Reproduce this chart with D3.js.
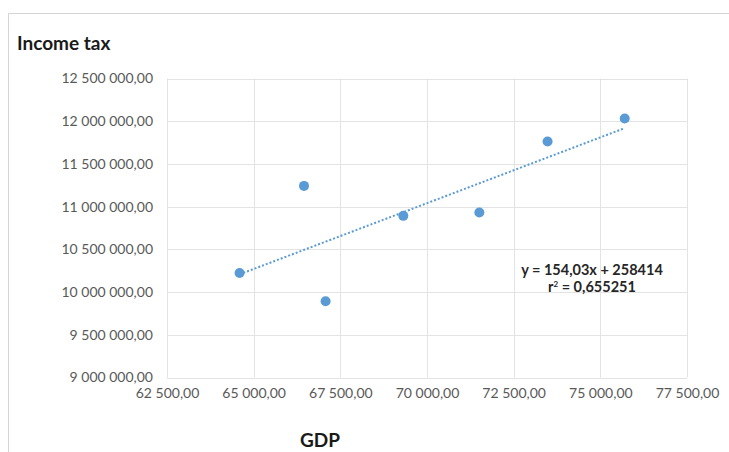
<!DOCTYPE html>
<html>
<head>
<meta charset="utf-8">
<script src="https://cdn.jsdelivr.net/npm/d3@7/dist/d3.min.js"></script>
<style>
  html, body { margin: 0; padding: 0; background: #fff; }
  svg { display: block; }
</style>
</head>
<body>
<svg id="chart" width="729" height="452"></svg>
<script>
// GDP (x) vs income tax (y) observations
const gdp = [64594, 66452, 67075, 69317, 71510, 73478, 75703];
const incomeTax = [10224000, 11243000, 9893000, 10892000, 10932000, 11763000, 12032000];

// Axis ticks
const xTicks = [62500, 65000, 67500, 70000, 72500, 75000, 77500];
const yTicks = [9000000, 9500000, 10000000, 10500000, 11000000, 11500000, 12000000, 12500000];

// Linear trendline as reported
const slope = 154.03;
const intercept = 258414;
const rSquared = "0,655251";

const svg = d3.select("#chart");
const W = 729, H = 452;
const plot = { left: 167, right: 687, top: 78.5, bottom: 377.5 };
const tickFont = "Lato, 'Open Sans', sans-serif";

// Outer chart frame (top and left edges visible)
svg.append("path")
  .attr("d", `M8.5,${H} L8.5,13.5 L${W},13.5`)
  .attr("fill", "none")
  .attr("stroke", "#d4d4d4")
  .attr("stroke-width", 1);

const x = d3.scaleLinear().domain([62500, 77500]).range([plot.left, plot.right]);
const y = d3.scaleLinear().domain([9000000, 12500000]).range([plot.bottom, plot.top]);

// Number format: space-grouped thousands, comma decimal
const fmt = d3.formatLocale({ decimal: ",", thousands: " ", grouping: [3], currency: ["", ""] }).format(",.2f");

// Gridlines
const grid = svg.append("g").attr("stroke", "#e3e3e3").attr("stroke-width", 1);
xTicks.forEach(t => {
  grid.append("line")
    .attr("x1", Math.round(x(t)) + 0.5).attr("x2", Math.round(x(t)) + 0.5)
    .attr("y1", plot.top).attr("y2", plot.bottom);
});
yTicks.forEach(t => {
  grid.append("line")
    .attr("x1", plot.left).attr("x2", plot.right)
    .attr("y1", Math.round(y(t)) + 0.5).attr("y2", Math.round(y(t)) + 0.5);
});

function styleTicks(sel) {
  sel.attr("font-family", tickFont)
    .attr("font-size", 14)
    .attr("letter-spacing", 0)
    .attr("fill", "#595959");
}

// Y axis labels
const yAxis = d3.axisLeft(y).tickValues(yTicks).tickSize(0).tickPadding(14).tickFormat(fmt);
svg.append("g")
  .attr("transform", `translate(${plot.left},0)`)
  .call(yAxis)
  .call(g => g.select(".domain").remove())
  .selectAll("text")
  .call(styleTicks);

// X axis labels
const xAxis = d3.axisBottom(x).tickValues(xTicks).tickSize(0).tickPadding(11).tickFormat(fmt);
svg.append("g")
  .attr("transform", `translate(0,${plot.bottom})`)
  .call(xAxis)
  .call(g => g.select(".domain").remove())
  .selectAll("text")
  .call(styleTicks);

// Trendline across the data range
const xMin = d3.min(gdp), xMax = d3.max(gdp);
svg.append("line")
  .attr("x1", x(xMin)).attr("y1", y(slope * xMin + intercept))
  .attr("x2", x(xMax)).attr("y2", y(slope * xMax + intercept))
  .attr("stroke", "#5b9bd5")
  .attr("stroke-width", 2)
  .attr("stroke-dasharray", "2,2");

// Data points
svg.append("g")
  .selectAll("circle")
  .data(gdp.map((g, i) => [g, incomeTax[i]]))
  .join("circle")
  .attr("cx", d => x(d[0]))
  .attr("cy", d => y(d[1]))
  .attr("r", 5)
  .attr("fill", "#5b9bd5");

// Trendline equation
function styleEq(sel) {
  sel.attr("text-anchor", "middle")
    .attr("font-family", tickFont)
    .attr("font-size", 14.5)
    .attr("font-weight", "bold")
    .attr("fill", "#262626");
}
svg.append("text")
  .attr("x", 592).attr("y", 275)
  .call(styleEq)
  .text(`y = ${String(slope).replace(".", ",")}x + ${intercept}`);
const r2 = svg.append("text")
  .attr("x", 592).attr("y", 292)
  .call(styleEq);
r2.append("tspan").text("r");
r2.append("tspan").attr("dy", -5).attr("font-size", 8).text("2");
r2.append("tspan").attr("dy", 5).text(` = ${rSquared}`);

// Axis titles
svg.append("text")
  .attr("x", 17).attr("y", 50)
  .attr("font-family", tickFont)
  .attr("font-size", 19)
  .attr("font-weight", "bold")
  .attr("fill", "#1a1a1a")
  .text("Income tax");

svg.append("text")
  .attr("x", 320).attr("y", 447)
  .attr("text-anchor", "middle")
  .attr("font-family", tickFont)
  .attr("font-size", 19)
  .attr("font-weight", "bold")
  .attr("fill", "#1a1a1a")
  .text("GDP");
</script>
</body>
</html>
